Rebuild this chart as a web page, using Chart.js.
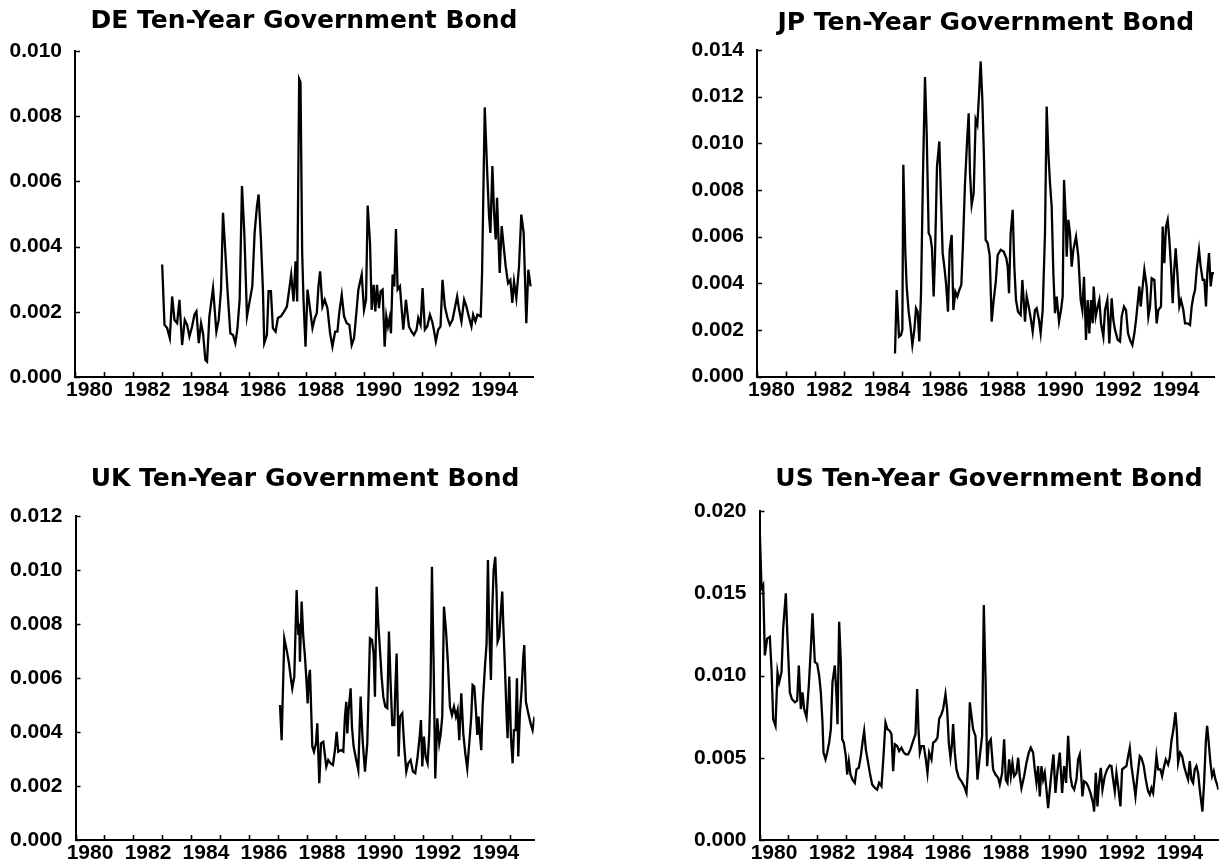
<!DOCTYPE html>
<html>
<head>
<meta charset="utf-8">
<script src="https://cdn.jsdelivr.net/npm/chart.js@4.4.1/dist/chart.umd.min.js"></script>
<style>
  html, body { margin: 0; padding: 0; background: #fff; }
  #wrap { position: relative; width: 1219px; height: 867px; overflow: hidden; background: #fff; }
  canvas { position: absolute; }
</style>
</head>
<body>
<div id="wrap">
  <canvas id="de" width="609" height="433" style="left:0px;top:0px"></canvas>
  <canvas id="jp" width="610" height="433" style="left:609px;top:0px"></canvas>
  <canvas id="uk" width="609" height="434" style="left:0px;top:433px"></canvas>
  <canvas id="us" width="610" height="434" style="left:609px;top:433px"></canvas>
</div>
<script>
// Ten-year government bond series (decimal year, value)

const deDates = [1983.013,1983.093,1983.185,1983.277,1983.357,1983.438,1983.530,1983.610,1983.702,1983.794,1983.875,1983.955,
  1984.047,1984.128,1984.197,1984.277,1984.357,1984.426,1984.507,1984.564,1984.645,1984.771,1984.886,1984.967,
  1985.047,1985.116,1985.197,1985.277,1985.369,1985.461,1985.541,1985.610,1985.691,1985.771,1985.852,1985.944,
  1986.036,1986.128,1986.208,1986.289,1986.346,1986.426,1986.495,1986.541,1986.633,1986.691,1986.771,1986.840,1986.932,
  1987.013,1987.116,1987.231,1987.323,1987.403,1987.472,1987.553,1987.622,1987.679,1987.748,1987.794,1987.852,1987.898,1987.967,
  1988.036,1988.128,1988.208,1988.289,1988.357,1988.415,1988.472,1988.553,1988.633,1988.725,1988.817,1988.898,1988.990,
  1989.070,1989.139,1989.220,1989.300,1989.392,1989.484,1989.564,1989.645,1989.714,1989.794,1989.909,1989.990,
  1990.059,1990.116,1990.197,1990.254,1990.323,1990.380,1990.438,1990.507,1990.564,1990.633,1990.702,1990.760,1990.817,1990.875,1990.921,1990.978,
  1991.036,1991.093,1991.151,1991.231,1991.346,1991.438,1991.541,1991.633,1991.714,1991.806,1991.863,1991.944,
  1992.013,1992.093,1992.174,1992.266,1992.346,1992.403,1992.472,1992.553,1992.633,1992.702,1992.783,1992.875,1992.955,
  1993.047,1993.128,1993.208,1993.277,1993.357,1993.449,1993.530,1993.610,1993.702,1993.760,1993.840,1993.909,
  1994.024,1994.070,1994.162,1994.243,1994.311,1994.357,1994.426,1994.484,1994.541,1994.587,1994.679,1994.748,1994.817,1994.886,1994.967,
  1995.047,1995.116,1995.174,1995.254,1995.346,1995.426,1995.507,1995.599,1995.668,1995.748];
const deValues = [0.00345,0.00160,0.00150,0.00119,0.00247,0.00175,0.00165,0.00237,0.00098,0.00175,0.00160,0.00124,
  0.00155,0.00191,0.00201,0.00104,0.00165,0.00134,0.00052,0.00047,0.00186,0.00273,0.00139,0.00175,
  0.00268,0.00504,0.00381,0.00257,0.00134,0.00129,0.00104,0.00145,0.00237,0.00586,0.00442,0.00186,
  0.00232,0.00278,0.00442,0.00524,0.00560,0.00422,0.00268,0.00104,0.00129,0.00263,0.00263,0.00150,0.00139,
  0.00181,0.00186,0.00201,0.00216,0.00268,0.00314,0.00232,0.00355,0.00232,0.00914,0.00904,0.00381,0.00237,0.00093,
  0.00268,0.00206,0.00150,0.00181,0.00196,0.00278,0.00324,0.00216,0.00237,0.00211,0.00134,0.00093,0.00139,
  0.00139,0.00201,0.00252,0.00186,0.00165,0.00160,0.00098,0.00119,0.00186,0.00268,0.00314,0.00206,
  0.00237,0.00526,0.00411,0.00206,0.00283,0.00201,0.00283,0.00211,0.00263,0.00268,0.00093,0.00186,0.00155,0.00181,0.00134,0.00314,
  0.00278,0.00454,0.00268,0.00278,0.00145,0.00237,0.00155,0.00139,0.00129,0.00145,0.00181,0.00160,
  0.00273,0.00145,0.00155,0.00191,0.00170,0.00145,0.00109,0.00145,0.00155,0.00298,0.00216,0.00181,0.00160,
  0.00175,0.00211,0.00247,0.00206,0.00170,0.00237,0.00216,0.00186,0.00155,0.00191,0.00170,0.00191,
  0.00186,0.00319,0.00827,0.00637,0.00493,0.00442,0.00647,0.00504,0.00422,0.00550,0.00319,0.00463,0.00401,0.00339,0.00288,
  0.00298,0.00227,0.00293,0.00242,0.00339,0.00498,0.00442,0.00165,0.00329,0.00278];

const jpDates = [1984.775,1984.833,1984.913,1984.983,
  1985.029,1985.063,1985.133,1985.179,1985.248,1985.306,1985.375,1985.444,1985.502,1985.559,1985.617,1985.675,1985.744,1985.813,1985.871,1985.940,1985.998,
  1986.055,1986.113,1986.159,1986.228,1986.309,1986.367,1986.424,1986.482,1986.540,1986.609,1986.667,1986.736,1986.794,1986.863,1986.932,
  1987.001,1987.070,1987.128,1987.197,1987.266,1987.324,1987.370,1987.428,1987.497,1987.566,1987.624,1987.682,1987.739,1987.797,1987.855,1987.912,1987.982,
  1988.051,1988.120,1988.189,1988.258,1988.328,1988.431,1988.535,1988.627,1988.674,1988.720,1988.777,1988.847,1988.904,1988.962,
  1989.031,1989.123,1989.181,1989.227,1989.273,1989.331,1989.412,1989.481,1989.539,1989.619,1989.677,1989.758,1989.815,1989.885,1989.965,
  1990.023,1990.081,1990.138,1990.196,1990.254,1990.311,1990.369,1990.450,1990.519,1990.577,1990.623,1990.681,1990.715,1990.773,1990.830,1990.888,1990.946,
  1991.038,1991.119,1991.200,1991.257,1991.315,1991.384,1991.442,1991.499,1991.557,1991.615,1991.649,1991.719,1991.788,1991.845,1991.903,1991.984,
  1992.042,1992.122,1992.191,1992.272,1992.330,1992.388,1992.480,1992.561,1992.618,1992.699,1992.768,1992.837,1992.907,1992.987,
  1993.057,1993.114,1993.172,1993.230,1993.276,1993.333,1993.403,1993.483,1993.541,1993.599,1993.656,1993.749,1993.829,1993.887,1993.979,
  1994.037,1994.095,1994.152,1994.210,1994.268,1994.325,1994.383,1994.429,1994.487,1994.544,1994.614,1994.671,1994.752,1994.810,1994.890,1994.983,
  1995.040,1995.098,1995.156,1995.213,1995.294,1995.352,1995.421,1995.479,1995.536,1995.582,1995.640,1995.698,1995.755,1995.813];
const jpValues = [0.00099,0.00371,0.00171,0.00178,
  0.00200,0.00908,0.00529,0.00386,0.00278,0.00221,0.00135,0.00200,0.00293,0.00278,0.00150,0.00357,0.00872,0.01284,0.01044,0.00614,0.00600,
  0.00550,0.00343,0.00514,0.00901,0.01008,0.00758,0.00529,0.00471,0.00400,0.00278,0.00543,0.00607,0.00285,0.00364,0.00343,
  0.00371,0.00393,0.00572,0.00829,0.01001,0.01129,0.00872,0.00736,0.00786,0.01101,0.01079,0.01208,0.01351,0.01187,0.00929,0.00586,0.00572,
  0.00521,0.00235,0.00328,0.00400,0.00521,0.00543,0.00536,0.00507,0.00471,0.00357,0.00614,0.00715,0.00471,0.00328,
  0.00278,0.00264,0.00414,0.00328,0.00235,0.00343,0.00293,0.00242,0.00192,0.00285,0.00293,0.00242,0.00185,0.00285,0.00614,
  0.01158,0.00958,0.00829,0.00729,0.00443,0.00271,0.00343,0.00235,0.00285,0.00343,0.00843,0.00686,0.00514,0.00672,0.00614,0.00471,0.00543,
  0.00600,0.00514,0.00328,0.00285,0.00428,0.00157,0.00328,0.00185,0.00328,0.00228,0.00386,0.00257,0.00300,0.00328,0.00228,0.00171,
  0.00285,0.00328,0.00142,0.00335,0.00242,0.00200,0.00157,0.00150,0.00257,0.00300,0.00285,0.00185,0.00157,0.00135,
  0.00185,0.00242,0.00314,0.00386,0.00300,0.00371,0.00457,0.00386,0.00257,0.00300,0.00421,0.00414,0.00228,0.00285,0.00300,
  0.00643,0.00486,0.00643,0.00672,0.00586,0.00471,0.00314,0.00443,0.00550,0.00443,0.00300,0.00328,0.00285,0.00228,0.00228,0.00221,
  0.00300,0.00343,0.00371,0.00457,0.00543,0.00471,0.00414,0.00414,0.00300,0.00443,0.00529,0.00386,0.00443,0.00443];

const ukDates = [1987.052,1987.109,1987.201,1987.282,1987.362,1987.420,1987.477,1987.546,1987.626,1987.684,1987.718,1987.741,1987.799,1987.856,1987.914,1987.971,
  1988.006,1988.052,1988.086,1988.167,1988.224,1988.293,1988.339,1988.408,1988.466,1988.546,1988.649,1988.718,1988.799,1988.879,1988.948,
  1989.006,1989.063,1989.155,1989.236,1989.293,1989.339,1989.374,1989.420,1989.489,1989.534,1989.592,1989.672,1989.753,1989.833,1989.902,1989.983,
  1990.063,1990.155,1990.224,1990.282,1990.328,1990.385,1990.443,1990.500,1990.557,1990.615,1990.684,1990.753,1990.810,1990.868,1990.925,1990.994,
  1991.029,1991.075,1991.144,1991.190,1991.270,1991.339,1991.408,1991.477,1991.557,1991.638,1991.718,1991.799,1991.879,1991.914,1991.960,
  1992.017,1992.075,1992.144,1992.201,1992.247,1992.293,1992.351,1992.408,1992.477,1992.546,1992.592,1992.649,1992.707,1992.776,1992.845,1992.914,1992.983,
  1993.052,1993.121,1993.178,1993.236,1993.305,1993.374,1993.443,1993.511,1993.580,1993.649,1993.695,1993.753,1993.810,1993.856,1993.902,1993.948,1993.994,
  1994.040,1994.121,1994.178,1994.224,1994.259,1994.293,1994.328,1994.374,1994.420,1994.477,1994.523,1994.557,1994.615,1994.672,1994.718,1994.753,1994.810,1994.868,1994.902,1994.960,
  1995.017,1995.075,1995.121,1995.178,1995.224,1995.270,1995.328,1995.385,1995.443,1995.477,1995.534,1995.615,1995.695,1995.764,1995.830];
const ukValues = [0.00500,0.00370,0.00747,0.00704,0.00654,0.00605,0.00562,0.00605,0.00926,0.00759,0.00802,0.00660,0.00883,0.00753,0.00679,0.00580,
  0.00506,0.00605,0.00630,0.00346,0.00327,0.00358,0.00432,0.00210,0.00358,0.00364,0.00272,0.00296,0.00284,0.00278,0.00333,
  0.00401,0.00327,0.00333,0.00327,0.00457,0.00512,0.00395,0.00481,0.00562,0.00420,0.00346,0.00302,0.00259,0.00531,0.00370,0.00253,
  0.00358,0.00747,0.00741,0.00691,0.00531,0.00938,0.00802,0.00704,0.00605,0.00531,0.00494,0.00488,0.00772,0.00580,0.00426,0.00426,
  0.00556,0.00691,0.00309,0.00457,0.00469,0.00346,0.00253,0.00284,0.00296,0.00253,0.00247,0.00309,0.00395,0.00444,0.00272,
  0.00383,0.00309,0.00284,0.00395,0.00580,0.01012,0.00654,0.00228,0.00451,0.00358,0.00389,0.00457,0.00864,0.00778,0.00654,0.00494,0.00463,
  0.00494,0.00457,0.00481,0.00370,0.00543,0.00395,0.00321,0.00265,0.00358,0.00457,0.00574,0.00568,0.00481,0.00389,0.00457,0.00389,0.00333,
  0.00494,0.00642,0.00728,0.01037,0.00827,0.00704,0.00593,0.00852,0.01000,0.01049,0.00914,0.00735,0.00753,0.00852,0.00920,0.00802,0.00642,0.00457,0.00377,0.00605,
  0.00383,0.00284,0.00407,0.00407,0.00599,0.00309,0.00469,0.00556,0.00679,0.00722,0.00512,0.00469,0.00432,0.00407,0.00457];

const usDates = [1980.000,1980.069,1980.126,1980.184,1980.264,1980.356,1980.414,1980.471,1980.552,1980.621,1980.678,1980.759,1980.816,1980.908,1980.966,
  1981.046,1981.115,1981.218,1981.299,1981.356,1981.425,1981.483,1981.540,1981.621,1981.701,1981.770,1981.828,1981.908,1981.989,
  1982.057,1982.115,1982.172,1982.207,1982.276,1982.333,1982.402,1982.460,1982.517,1982.598,1982.655,1982.690,1982.747,1982.805,1982.851,1982.908,1982.977,
  1983.023,1983.080,1983.138,1983.207,1983.287,1983.345,1983.425,1983.494,1983.552,1983.609,1983.667,1983.747,1983.805,1983.885,1983.977,
  1984.057,1984.126,1984.207,1984.276,1984.345,1984.414,1984.494,1984.552,1984.609,1984.667,1984.747,1984.816,1984.897,1984.977,
  1985.046,1985.126,1985.207,1985.299,1985.379,1985.437,1985.483,1985.529,1985.586,1985.667,1985.736,1985.793,1985.851,1985.931,1985.989,
  1986.069,1986.138,1986.195,1986.276,1986.333,1986.414,1986.471,1986.529,1986.586,1986.632,1986.678,1986.736,1986.793,1986.874,1986.966,
  1987.057,1987.138,1987.195,1987.253,1987.310,1987.368,1987.448,1987.517,1987.598,1987.678,1987.736,1987.793,1987.851,1987.908,1987.977,
  1988.057,1988.138,1988.230,1988.287,1988.368,1988.437,1988.494,1988.552,1988.609,1988.667,1988.724,1988.782,1988.862,1988.920,1988.977,
  1989.034,1989.126,1989.207,1989.287,1989.356,1989.437,1989.494,1989.552,1989.609,1989.667,1989.724,1989.782,1989.839,1989.897,1989.954,
  1990.034,1990.092,1990.138,1990.207,1990.276,1990.356,1990.437,1990.506,1990.575,1990.644,1990.724,1990.782,1990.851,1990.931,1990.989,
  1991.046,1991.103,1991.138,1991.195,1991.276,1991.333,1991.414,1991.506,1991.540,1991.598,1991.655,1991.701,1991.770,1991.828,1991.908,1991.989,
  1992.080,1992.138,1992.195,1992.253,1992.310,1992.368,1992.448,1992.506,1992.575,1992.655,1992.713,1992.770,1992.828,1992.908,1992.966,
  1993.034,1993.115,1993.172,1993.253,1993.322,1993.402,1993.460,1993.517,1993.575,1993.632,1993.690,1993.747,1993.828,1993.885,1993.943,
  1994.011,1994.092,1994.149,1994.207,1994.276,1994.345,1994.391,1994.437,1994.506,1994.575,1994.644,1994.724,1994.782,1994.839,1994.897,1994.954,
  1995.011,1995.069,1995.126,1995.184,1995.276,1995.333,1995.391,1995.437,1995.483,1995.552,1995.609,1995.667,1995.724,1995.782,1995.828];
const usValues = [0.01939,0.01531,0.01551,0.01122,0.01224,0.01235,0.01041,0.00735,0.00694,0.01020,0.00959,0.01020,0.01286,0.01500,0.01224,
  0.00898,0.00857,0.00837,0.00847,0.01061,0.00796,0.00898,0.00796,0.00745,0.00939,0.01163,0.01378,0.01082,0.01071,
  0.01000,0.00898,0.00714,0.00531,0.00490,0.00531,0.00592,0.00673,0.00959,0.01061,0.00878,0.00704,0.01327,0.01082,0.00612,0.00592,0.00510,
  0.00398,0.00480,0.00398,0.00367,0.00347,0.00429,0.00439,0.00510,0.00592,0.00663,0.00551,0.00469,0.00408,0.00337,0.00316,
  0.00306,0.00347,0.00327,0.00510,0.00714,0.00673,0.00663,0.00643,0.00418,0.00582,0.00571,0.00541,0.00561,0.00531,
  0.00520,0.00520,0.00551,0.00602,0.00643,0.00918,0.00673,0.00531,0.00571,0.00571,0.00490,0.00408,0.00531,0.00490,0.00592,
  0.00602,0.00622,0.00735,0.00765,0.00796,0.00888,0.00796,0.00592,0.00500,0.00571,0.00704,0.00531,0.00429,0.00378,0.00357,
  0.00327,0.00286,0.00449,0.00837,0.00755,0.00673,0.00633,0.00367,0.00510,0.00633,0.01429,0.01000,0.00449,0.00592,0.00612,
  0.00429,0.00398,0.00378,0.00337,0.00408,0.00612,0.00367,0.00347,0.00490,0.00388,0.00469,0.00388,0.00408,0.00500,0.00388,
  0.00316,0.00388,0.00469,0.00531,0.00561,0.00531,0.00429,0.00347,0.00449,0.00265,0.00449,0.00367,0.00408,0.00306,0.00194,
  0.00347,0.00449,0.00520,0.00286,0.00418,0.00531,0.00286,0.00449,0.00347,0.00633,0.00388,0.00327,0.00306,0.00367,0.00490,
  0.00520,0.00367,0.00265,0.00357,0.00347,0.00327,0.00286,0.00224,0.00173,0.00408,0.00204,0.00327,0.00439,0.00306,0.00388,0.00429,
  0.00453,0.00449,0.00367,0.00296,0.00408,0.00327,0.00204,0.00429,0.00439,0.00449,0.00510,0.00561,0.00449,0.00347,0.00265,
  0.00388,0.00510,0.00500,0.00449,0.00367,0.00296,0.00276,0.00316,0.00286,0.00388,0.00510,0.00429,0.00429,0.00388,0.00439,
  0.00490,0.00459,0.00500,0.00602,0.00673,0.00776,0.00673,0.00469,0.00531,0.00510,0.00449,0.00398,0.00367,0.00480,0.00367,0.00347,
  0.00429,0.00449,0.00408,0.00306,0.00173,0.00347,0.00592,0.00694,0.00612,0.00469,0.00388,0.00418,0.00367,0.00337,0.00306];

// Axis ticks
const yearMarks = [1980,1981,1982,1983,1984,1985,1986,1987,1988,1989,1990,1991,1992,1993,1994,1995];
const yearLabels = [1980,1982,1984,1986,1988,1990,1992,1994];
const deYTicks = [0, 0.002, 0.004, 0.006, 0.008, 0.010];
const jpYTicks = [0, 0.002, 0.004, 0.006, 0.008, 0.010, 0.012, 0.014];
const ukYTicks = [0, 0.002, 0.004, 0.006, 0.008, 0.010, 0.012];
const usYTicks = [0, 0.005, 0.010, 0.015, 0.020];

const X_MIN = 1980;
const X_MAX = 1995.83;

// Short tick marks drawn on the inner side of both axes
const inwardTicks = {
  id: 'inwardTicks',
  afterDatasetsDraw(chart) {
    const { ctx, chartArea: a, scales: { x, y } } = chart;
    ctx.save();
    ctx.strokeStyle = '#000';
    ctx.lineWidth = 1.6;
    ctx.beginPath();
    x.ticks.forEach(t => {
      if (Number.isInteger(t.value)) {
        const px = Math.round(x.getPixelForValue(t.value)) + 0.5;
        ctx.moveTo(px, a.bottom);
        ctx.lineTo(px, a.bottom - 5);
      }
    });
    y.ticks.forEach(t => {
      const py = Math.round(y.getPixelForValue(t.value)) + 0.5;
      ctx.moveTo(a.left, py);
      ctx.lineTo(a.left + 5, py);
    });
    ctx.stroke();
    ctx.restore();
  }
};

const tickFont = { family: "'Liberation Sans', Arial, sans-serif", size: 21, weight: 'bold' };
const titleFont = { family: "'DejaVu Sans', sans-serif", size: 25, weight: 'bold', lineHeight: 1.2 };

function panel(id, title, dates, values, yTicks, g) {
  const points = dates.map((d, i) => ({ x: d, y: values[i] }));
  return new Chart(document.getElementById(id), {
    type: 'line',
    data: {
      datasets: [{
        data: points,
        borderColor: '#000',
        borderWidth: 2.3,
        pointRadius: 0,
        tension: 0,
        fill: false
      }]
    },
    options: {
      responsive: false,
      animation: false,
      devicePixelRatio: 1,
      layout: { padding: { left: 0, right: g.right, top: 0, bottom: 0 } },
      plugins: {
        legend: { display: false },
        tooltip: { enabled: false },
        title: {
          display: true,
          fullSize: false,
          text: title,
          color: '#000',
          font: titleFont,
          padding: { top: g.titleTop, bottom: g.titleBottom }
        }
      },
      scales: {
        x: {
          type: 'linear',
          min: X_MIN,
          max: X_MAX,
          afterBuildTicks: s => {
            const marks = yearMarks.map(v => ({ value: v }));
            const labels = yearLabels.map(v => ({ value: v + 0.5 }));
            s.ticks = marks.concat(labels).sort((a, b) => a.value - b.value);
          },
          afterFit: s => { s.height = g.xHeight; },
          grid: { display: false, drawTicks: false },
          border: { display: true, color: '#000', width: 2 },
          ticks: {
            autoSkip: false,
            maxRotation: 0,
            minRotation: 0,
            padding: 1,
            color: '#000',
            font: tickFont,
            callback: v => Number.isInteger(v) ? '' : String(Math.floor(v))
          }
        },
        y: {
          min: 0,
          max: yTicks[yTicks.length - 1],
          afterBuildTicks: s => { s.ticks = yTicks.map(v => ({ value: v })); },
          afterFit: s => { s.width = g.yWidth; },
          grid: { display: false, drawTicks: false },
          border: { display: true, color: '#000', width: 2 },
          ticks: {
            autoSkip: false,
            padding: 13,
            color: '#000',
            font: tickFont,
            callback: v => v.toFixed(3)
          }
        }
      }
    },
    plugins: [inwardTicks]
  });
}

panel('de', 'DE Ten-Year Government Bond', deDates, deValues, deYTicks,
  { right: 76, titleTop: 6, titleBottom: 15, yWidth: 75, xHeight: 56 });
panel('jp', 'JP Ten-Year Government Bond', jpDates, jpValues, jpYTicks,
  { right: 4.5, titleTop: 8, titleBottom: 12, yWidth: 148, xHeight: 56.5 });
panel('uk', 'UK Ten-Year Government Bond', ukDates, ukValues, ukYTicks,
  { right: 74.5, titleTop: 31.5, titleBottom: 21.5, yWidth: 75.5, xHeight: 27 });
panel('us', 'US Ten-Year Government Bond', usDates, usValues, usYTicks,
  { right: 0.5, titleTop: 31, titleBottom: 17, yWidth: 150.5, xHeight: 27 });
</script>
</body>
</html>
